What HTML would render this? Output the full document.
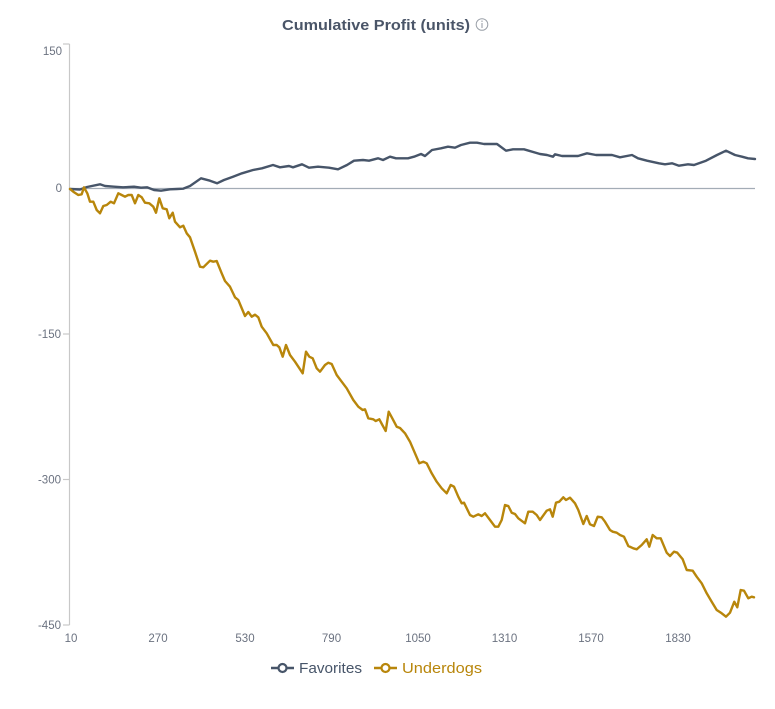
<!DOCTYPE html>
<html>
<head>
<meta charset="utf-8">
<style>
  html, body { margin: 0; padding: 0; background: #ffffff; }
  body { width: 775px; height: 709px; overflow: hidden; }
  svg { display: block; }
  text { font-family: "Liberation Sans", "DejaVu Sans", sans-serif; }
</style>
</head>
<body>
<svg width="775" height="709" viewBox="0 0 775 709" xmlns="http://www.w3.org/2000/svg">
  <rect x="0" y="0" width="775" height="709" fill="#ffffff"/>

  <!-- Title -->
  <text x="376" y="30" text-anchor="middle" font-size="15" font-weight="bold" fill="#4a5568" textLength="188" lengthAdjust="spacingAndGlyphs">Cumulative Profit (units)</text>
  <circle cx="482" cy="24.5" r="5.8" fill="none" stroke="#9aa0a8" stroke-width="1"/>
  <line x1="482" y1="23" x2="482" y2="28" stroke="#9aa0a8" stroke-width="1.1"/>
  <circle cx="482" cy="21.2" r="0.7" fill="#9aa0a8"/>

  <!-- Y axis -->
  <line x1="69.5" y1="44" x2="69.5" y2="625" stroke="#c8c8c8" stroke-width="1.2"/>
  <g stroke="#c8c8c8" stroke-width="1.2">
    <line x1="63" y1="44" x2="69.5" y2="44"/>
    <line x1="63" y1="334" x2="69.5" y2="334"/>
    <line x1="63" y1="479.5" x2="69.5" y2="479.5"/>
    <line x1="63" y1="625" x2="69.5" y2="625"/>
  </g>
  <g font-size="11.5" fill="#6b7280" text-anchor="end">
    <text x="62" y="55">150</text>
    <text x="62" y="192">0</text>
    <text x="61" y="338">-150</text>
    <text x="61" y="483.5">-300</text>
    <text x="61" y="629">-450</text>
  </g>

  <!-- X labels -->
  <g font-size="11.5" fill="#6b7280" text-anchor="middle">
    <text x="71" y="642">10</text>
    <text x="158" y="642">270</text>
    <text x="245" y="642">530</text>
    <text x="331.5" y="642">790</text>
    <text x="418" y="642">1050</text>
    <text x="504.5" y="642">1310</text>
    <text x="591" y="642">1570</text>
    <text x="678" y="642">1830</text>
  </g>

  <!-- Zero line -->
  <line x1="70" y1="188.5" x2="755" y2="188.5" stroke="#a3acb6" stroke-width="1.2"/>

  <!-- Favorites -->
  <polyline fill="none" stroke="#475569" stroke-width="2.4" stroke-linejoin="round" stroke-linecap="round"
    points="70,189 80,189.5 87,187 100,184.3 105,186 114,186.7 123,187.3 134,186.7 141,187.7 147,187.3 154,190 161,190.7 170,189.3 177,189 183,188.7 190,186 201,178.3 210,180.7 217,183.3 224,180 233,176.7 242,173.3 253,170 262,168.3 273,165 280,167.3 289,166 293,167.3 302,164.3 309,167.7 318,166.7 329,167.7 338,169.3 347,165 354,160.7 363,160 369,160.7 378,158.3 383,160 390,156.7 396,158.3 408,158.3 414,156.7 421,154 425,156 432,150 441,148.3 448,146.7 455,147.7 461,145 470,142.7 477,142.7 484,144 497,144 506,150.7 513,149.3 524,149.3 540,154 547,155 553,156.7 555,154.3 562,156 578,156 587,153.3 596,155 612,155 620,157.3 632,155 638,158.3 647,160.7 659,163.3 665,164.3 672,163.3 679,165.7 688,164.3 694,165 706,160.7 717,155 726,150.7 735,155 742,156.7 748,158.3 755,159"/>

  <!-- Underdogs -->
  <polyline fill="none" stroke="#b8860b" stroke-width="2.4" stroke-linejoin="round" stroke-linecap="round"
    points="70,189 73.3,191.7 78.3,195 81.7,194.3 84,187.3 87.3,193.3 90,201.7 93.3,201.7 96.7,210 100,213.3 103.3,206 106.7,205 110.7,201.7 114,203.3 118.3,193.3 121.7,195 125,196.7 128.3,195 131.7,195 135,203.3 138.3,195 141.7,197.3 145,202.7 149.3,203.3 153.3,206.7 156,212.7 159.3,198.3 162.7,208.3 166.7,209.3 169.3,218.3 172.7,212.7 175,221.7 180,227.3 183.3,225.7 186.7,233.3 190,237.3 195,251.7 200,266.7 203.3,267.3 210,260.7 213.3,261.7 216.7,261 221.7,273.3 225,281 230,286.7 235,297.3 238.3,300 245,316 248.3,312 251.7,316.7 255,314.7 258.3,317.3 261.7,326.7 266.7,333.3 273.3,345 276.7,345 279.3,347.3 282.7,356.7 286,345 290,355 295,361.7 302.7,373.3 306,351.7 309.3,356.7 312.7,358.3 316.7,368.3 320,371.7 325,365 328.3,362.7 331.7,364 336.7,375 341.7,381.7 346.7,388.3 353.3,400 358.3,406.7 362.7,410 365,409.3 368.3,418.3 373.3,419.3 375.7,421 379.3,419.3 383.3,426.7 385.7,431 388.7,411.7 392.3,418.3 396.7,426.7 400,428 405,433.3 410,441.7 415,453.3 419.3,463.3 423.3,461.7 426.7,463.3 431.7,473.3 436.7,481.7 441.7,488.3 446.7,493.3 450.7,485 454,486.7 458.3,496.7 461.7,503.3 464,502.7 470,515 473.3,516.7 478.3,514.3 481.7,516 485,513.3 490,520 495,526.7 498.3,526.7 501.7,520 505,505 508.3,506 511.7,512.7 515,514 518.3,518.3 525,523.3 528.3,511.7 532.7,511.7 536.7,515 540,520 546.7,510.7 550,509.3 552.7,516.7 556,502.7 559.3,501.7 563.3,497.3 566,500 570,497.7 575,503.3 578.3,510 583.3,524 586.7,516 590,524.3 594,526 597.7,516.7 601.7,517.3 605,521.7 610,530 612.7,531.7 616.7,532.7 620,535 624,536.7 628.3,546 633.3,548.3 636.7,549.3 641.7,545 646.7,539.3 649.3,546.7 652.7,535 656.7,538.3 660.7,538.3 666.7,552.7 670,556 674,551.7 677.3,552.7 682.7,559.3 686.7,570 692.7,570.7 696.7,576.7 701.7,583.3 706.7,593.3 711.7,601.7 716.7,610 721.7,613.3 726,616.7 730,612.7 734.3,601.7 737.3,607.3 740.7,590 744,590.7 748.3,598.3 751.7,596.7 754,597.3"/>

  <!-- Legend -->
  <g>
    <line x1="271" y1="668" x2="294" y2="668" stroke="#475569" stroke-width="2.6"/>
    <circle cx="282.5" cy="668" r="4" fill="#ffffff" stroke="#475569" stroke-width="2.2"/>
    <text x="299" y="673" font-size="15" fill="#475569" textLength="63" lengthAdjust="spacingAndGlyphs">Favorites</text>

    <line x1="374" y1="668" x2="397" y2="668" stroke="#b8860b" stroke-width="2.6"/>
    <circle cx="385.5" cy="668" r="4" fill="#ffffff" stroke="#b8860b" stroke-width="2.2"/>
    <text x="402" y="673" font-size="15" fill="#b8860b" textLength="80" lengthAdjust="spacingAndGlyphs">Underdogs</text>
  </g>
</svg>
</body>
</html>
